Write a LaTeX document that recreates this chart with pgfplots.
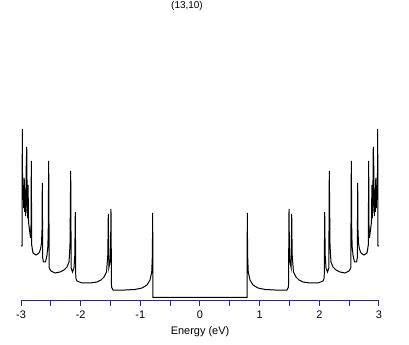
\documentclass[border=0pt]{standalone}
\usepackage{pgfplots}
\pgfplotsset{compat=1.18}
\usepackage{fontspec}
\setmainfont{Liberation Sans}
\definecolor{axblue}{RGB}{30,30,210}
\begin{document}
\begin{tikzpicture}[x=1bp,y=1bp]
\useasboundingbox (0,0) rectangle (409,345);
\begin{axis}[
  at={(21bp,45bp)}, anchor=south west,
  scale only axis, width=358bp, height=280bp,
  xmin=-3, xmax=3, ymin=0, ymax=280,
  axis x line=bottom, axis y line=none,
  x axis line style={-, draw=axblue, line width=1bp},
  xtick={-3,-2,...,3}, minor xtick={-2.5,-1.5,...,2.5},
  xtick align=outside,
  major tick length=5.5bp, minor tick length=5.5bp,
  x tick style={draw=axblue, line width=1bp},
  minor x tick style={draw=axblue, line width=1bp},
  xticklabel style={font=\fontsize{11}{13}\selectfont, yshift=-1.5bp},
  /pgf/number format/assume math mode=true,
  xlabel={Energy (eV)},
  xlabel style={font=\fontsize{11}{13}\selectfont, yshift=-1bp},
  clip=false,
]
\addplot[black, line width=1bp] table {
-3.000 54
-2.983 54
-2.978 171
-2.973 100
-2.963 115
-2.955 92
-2.946 122
-2.938 88
-2.930 110
-2.921 84
-2.913 132
-2.904 153
-2.896 95
-2.888 82
-2.881 115
-2.874 78
-2.857 70
-2.841 62
-2.832 75
-2.827 139
-2.821 55
-2.799 47
-2.748 45
-2.698 47
-2.673 51
-2.656 57
-2.648 70
-2.643 117
-2.636 42
-2.623 38
-2.589 38
-2.564 45
-2.552 52
-2.544 65
-2.536 139
-2.527 32
-2.497 29
-2.430 27
-2.346 28
-2.279 30
-2.229 33
-2.195 38
-2.179 55
-2.167 129
-2.159 32
-2.137 28
-2.112 32
-2.098 45
-2.090 88
-2.082 22
-2.061 19
-1.978 17
-1.843 17
-1.726 18
-1.659 20
-1.609 23
-1.567 28
-1.545 45
-1.537 86
-1.528 32
-1.508 38
-1.498 55
-1.492 91
-1.483 13
-1.458 10
-1.257 10
-1.089 10.5
-0.972 12
-0.888 15
-0.838 20
-0.809 28
-0.798 45
-0.793 87
-0.788 2.7
0.788 2.7
0.793 87
0.798 45
0.809 28
0.838 20
0.888 15
0.972 12
1.089 10.5
1.257 10
1.458 10
1.483 13
1.492 91
1.498 55
1.508 38
1.528 32
1.537 86
1.545 45
1.567 28
1.609 23
1.659 20
1.726 18
1.843 17
1.978 17
2.061 19
2.082 22
2.090 88
2.098 45
2.112 32
2.137 28
2.159 32
2.167 129
2.179 55
2.195 38
2.229 33
2.279 30
2.346 28
2.430 27
2.497 29
2.527 32
2.536 139
2.544 65
2.552 52
2.564 45
2.589 38
2.623 38
2.636 42
2.643 117
2.648 70
2.656 57
2.673 51
2.698 47
2.748 45
2.799 47
2.821 55
2.827 139
2.832 75
2.841 62
2.857 70
2.874 78
2.881 115
2.888 82
2.896 95
2.904 153
2.913 132
2.921 84
2.930 110
2.938 88
2.946 122
2.955 92
2.963 115
2.973 100
2.978 171
2.983 54
3.000 54
};
\end{axis}
\node[font=\fontsize{10}{12}\selectfont] at (187,339) {(13,10)};
\end{tikzpicture}
\end{document}
